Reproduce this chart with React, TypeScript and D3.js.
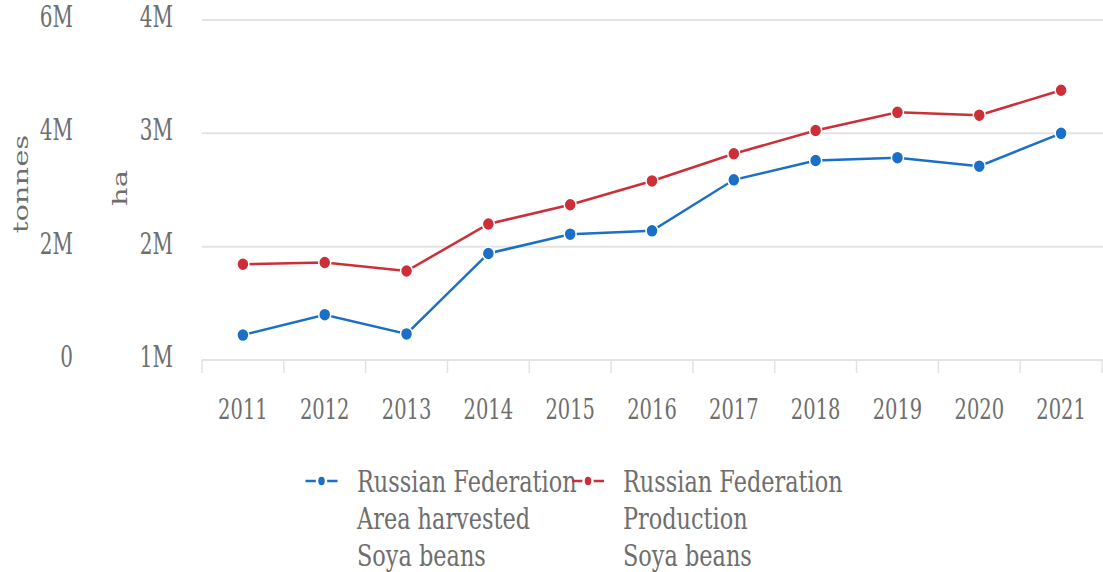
import React from 'react';
import * as d3 from 'd3';

const years = ['2011', '2012', '2013', '2014', '2015', '2016', '2017', '2018', '2019', '2020', '2021'];
// Area harvested (ha) – inner axis "ha"
const areaHarvested = [1220000, 1400000, 1230000, 1940000, 2110000, 2140000, 2590000, 2760000, 2785000, 2710000, 3000000];
// Production (tonnes) – outer axis "tonnes"
const production = [1690000, 1720000, 1570000, 2400000, 2740000, 3160000, 3640000, 4050000, 4370000, 4320000, 4760000];
const tonnesTicks = [0, 2000000, 4000000, 6000000];
const haTicks = [1000000, 2000000, 3000000, 4000000];
const legendBlue = ['Russian Federation', 'Area harvested', 'Soya beans'];
const legendRed = ['Russian Federation', 'Production', 'Soya beans'];

const W = 1103;
const H = 572;
const K = 1.45; // vertical stretch of the axis text
const KL = 1.35; // vertical stretch of the legend text
const BLUE = '#1b6fc6';
const RED = '#cc2f38';
const TXT = '#6e6e6e';
const GRID = '#e3e3e3';
const FONT = '"DejaVu Serif", serif';

const fmt = (d: number) => (d === 0 ? '0' : `${d / 1e6}M`);

function T({ x, y, children, anchor = 'start', size = 20, rotate = false, k = K }: any) {
  const tr = rotate
    ? `translate(${x},${y}) rotate(-90) scale(${k},1)`
    : `translate(${x},${y}) scale(1,${k})`;
  return (
    <text transform={tr} textAnchor={anchor} fontSize={size} fontFamily={FONT} fill={TXT}>
      {children}
    </text>
  );
}

export default function App() {
  const left = 202;
  const right = 1102;
  const top = 20;
  const bottom = 360;
  const x = d3.scaleBand<string>().domain(years).range([left, right]);
  const yHa = d3.scaleLinear().domain([1000000, 4000000]).range([bottom, top]);
  const yT = d3.scaleLinear().domain([0, 6000000]).range([bottom, top]);
  const cx = (d: string) => (x(d) as number) + x.bandwidth() / 2;

  const lineHa = d3
    .line<number>()
    .x((_, i) => cx(years[i]))
    .y((d) => yHa(d));
  const lineT = d3
    .line<number>()
    .x((_, i) => cx(years[i]))
    .y((d) => yT(d));

  const bw = x.bandwidth();
  const tickXs = d3.range(years.length + 1).map((i) => left + i * bw);

  const legend = (items: string[], color: string, sx: number, tx: number, key: string) => (
    <g key={key}>
      <line x1={sx - 16} x2={sx + 16} y1={481} y2={481} stroke={color} strokeWidth={2.5} />
      <ellipse cx={sx} cy={481} rx={4.5} ry={5.5} fill={color} stroke="#fff" strokeWidth={2.5} />
      {items.map((s, i) => (
        <T key={key + i} x={tx} y={491.5 + i * 37.3} size={22.4} k={KL}>
          {s}
        </T>
      ))}
    </g>
  );

  return (
    <svg
      width={W}
      height={H}
      style={{ position: 'absolute', left: 0, top: 0, display: 'block', background: '#fff' }}
    >
      {/* grid */}
      {haTicks.map((t) => (
        <line key={t} x1={left} x2={W} y1={yHa(t)} y2={yHa(t)} stroke={GRID} strokeWidth={2} />
      ))}
      {/* x ticks */}
      {tickXs.map((tx, i) => (
        <line key={i} x1={tx} x2={tx} y1={bottom} y2={bottom + 13} stroke={GRID} strokeWidth={1.5} />
      ))}
      {/* y labels */}
      {tonnesTicks.map((t) => (
        <T key={'t' + t} x={73} y={yT(t) + 7} anchor="end">
          {fmt(t)}
        </T>
      ))}
      {haTicks.map((t) => (
        <T key={'h' + t} x={173} y={yHa(t) + 7} anchor="end">
          {fmt(t)}
        </T>
      ))}
      <T x={28} y={184} anchor="middle" rotate>
        tonnes
      </T>
      <T x={127} y={188} anchor="middle" rotate>
        ha
      </T>
      {/* x labels */}
      {years.map((yr) => (
        <T key={yr} x={cx(yr)} y={419} anchor="middle" size={19.5}>
          {yr}
        </T>
      ))}
      {/* series */}
      <path d={lineT(production) || ''} fill="none" stroke={RED} strokeWidth={2.5} />
      <path d={lineHa(areaHarvested) || ''} fill="none" stroke={BLUE} strokeWidth={2.5} />
      {production.map((v, i) => (
        <ellipse key={'p' + i} cx={cx(years[i])} cy={yT(v)} rx={6} ry={6.5} fill={RED} stroke="#fff" strokeWidth={1.5} />
      ))}
      {areaHarvested.map((v, i) => (
        <ellipse key={'a' + i} cx={cx(years[i])} cy={yHa(v)} rx={6} ry={6.5} fill={BLUE} stroke="#fff" strokeWidth={1.5} />
      ))}
      {/* legend */}
      {legend(legendBlue, BLUE, 321.5, 357, 'lb')}
      {legend(legendRed, RED, 588, 623, 'lr')}
    </svg>
  );
}
